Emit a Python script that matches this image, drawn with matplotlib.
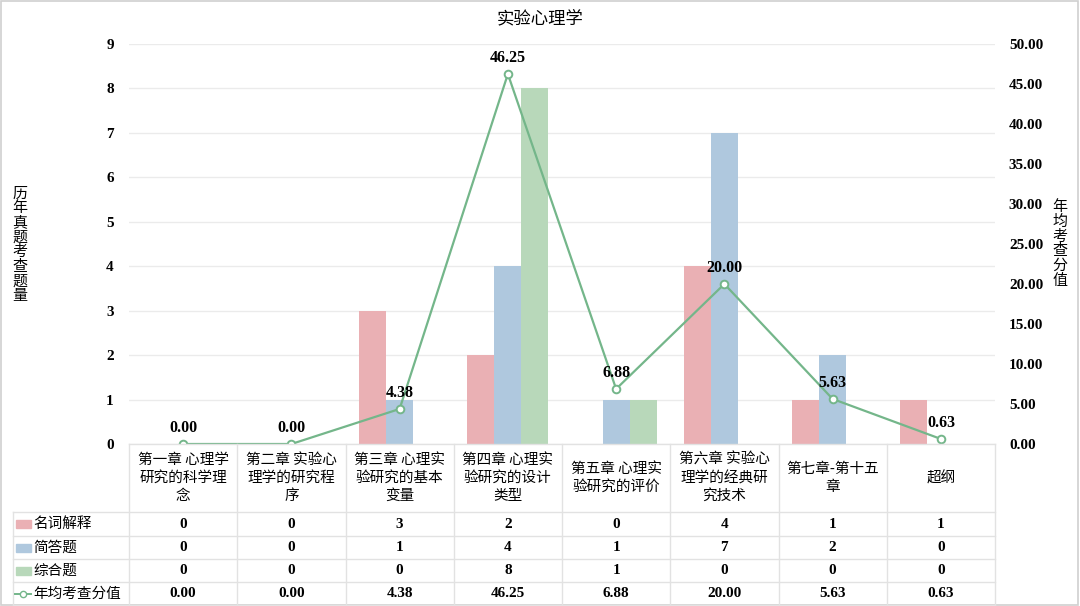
import matplotlib.pyplot as plt
import matplotlib.transforms as mtransforms
from matplotlib.lines import Line2D
from matplotlib.patches import Rectangle

# 数据
categories = [
    "第一章 心理学\n研究的科学理\n念",
    "第二章 实验心\n理学的研究程\n序",
    "第三章 心理实\n验研究的基本\n变量",
    "第四章 心理实\n验研究的设计\n类型",
    "第五章 心理实\n验研究的评价",
    "第六章 实验心\n理学的经典研\n究技术",
    "第七章-第十五\n章",
    "超纲",
]
mingci = [0, 0, 3, 2, 0, 4, 1, 1]
jianda = [0, 0, 1, 4, 1, 7, 2, 0]
zonghe = [0, 0, 0, 8, 1, 0, 0, 0]
fenzhi = [0.00, 0.00, 4.38, 46.25, 6.88, 20.00, 5.63, 0.63]

series_names = ["名词解释", "简答题", "综合题"]
line_name = "年均考查分值"

c_red = "#EAB0B4"
c_blue = "#AFC8DE"
c_green = "#B8D8BA"
c_line = "#74B68A"
c_grid = "#EBEBEB"
c_table = "#E2E2E2"

CJK = ["Noto Sans CJK SC", "DejaVu Sans"]
NUM = ["Liberation Serif", "Noto Sans CJK SC"]
plt.rcParams["font.family"] = CJK

W, H = 1080, 606
fig = plt.figure(figsize=(W / 100, H / 100), dpi=100)


def fx(x):
    return x / W


def fy(y):
    return 1 - y / H


ax_l, ax_r, ax_t, ax_b = 129, 995, 44, 444
ax = fig.add_axes([fx(ax_l), fy(ax_b), fx(ax_r - ax_l), (ax_b - ax_t) / H])
ax2 = ax.twinx()

n = len(categories)
xs = list(range(n))
bw = 0.25
ax.bar([x - bw for x in xs], mingci, bw, color=c_red, zorder=2)
ax.bar(xs, jianda, bw, color=c_blue, zorder=2)
ax.bar([x + bw for x in xs], zonghe, bw, color=c_green, zorder=2)

ax.set_xlim(-0.5, n - 0.5)
ax.set_ylim(0, 9)
ax.set_yticks(range(0, 10))
ax.set_xticks([])
ax.grid(axis="y", color=c_grid, linewidth=1, zorder=0)
ax.tick_params(axis="y", length=0, pad=11)
for lab in ax.get_yticklabels():
    lab.set_family(NUM)
    lab.set_fontweight("bold")
    lab.set_fontsize(11)

ax2.plot(xs, fenzhi, color=c_line, linewidth=1.6, marker="o", markersize=5.5,
         markerfacecolor="white", markeredgecolor=c_line, markeredgewidth=1.4, zorder=3)
ax2.set_ylim(0, 50)
ax2.set_yticks(range(0, 51, 5))
ax2.set_yticklabels([f"{v:.2f}" for v in range(0, 51, 5)])
ax2.tick_params(axis="y", length=0, pad=10)
for lab in ax2.get_yticklabels():
    lab.set_family(NUM)
    lab.set_fontweight("bold")
    lab.set_fontsize(11)
for x, v in zip(xs, fenzhi):
    ax2.annotate(f"{v:.2f}", (x, v), xytext=(0, 6), textcoords="offset points",
                 ha="center", va="bottom", family=NUM, fontweight="bold", fontsize=11.5)

for a in (ax, ax2):
    for s in a.spines.values():
        s.set_visible(False)

# 标题与坐标轴名
fig.text(fx(540), fy(18), "实验心理学", ha="center", va="center", fontsize=12.5)
fig.text(fx(20), fy(245), "\n".join("历年真题考查题量"), ha="center", va="center",
         fontsize=10.8, linespacing=1.06)
fig.text(fx(1060), fy(244), "\n".join("年均考查分值"), ha="center", va="center",
         fontsize=10.8, linespacing=1.06)

# 数据表
trans = mtransforms.blended_transform_factory(ax.transData, fig.transFigure)
row_edges = [444, 512, 536, 559, 582, 605]
tab_left = 13

for i in range(n + 1):
    fig.add_artist(Line2D([i - 0.5, i - 0.5], [fy(444), fy(605)], transform=trans,
                          color=c_table, linewidth=1))
fig.add_artist(Line2D([fx(tab_left), fx(tab_left)], [fy(512), fy(605)],
                      transform=fig.transFigure, color=c_table, linewidth=1))
fig.add_artist(Line2D([fx(ax_l), fx(ax_r)], [fy(444), fy(444)],
                      transform=fig.transFigure, color=c_table, linewidth=1))
for y in row_edges[1:]:
    fig.add_artist(Line2D([fx(tab_left), fx(ax_r)], [fy(y), fy(y)],
                          transform=fig.transFigure, color=c_table, linewidth=1))

for x, cat in zip(xs, categories):
    fig.text(x, fy(478), cat, transform=trans, ha="center", va="center",
             fontsize=10.5, linespacing=1.35)

rows = [mingci, jianda, zonghe]
row_colors = [c_red, c_blue, c_green]
for r, (vals, name, col) in enumerate(zip(rows, series_names, row_colors)):
    yc = (row_edges[r + 1] + row_edges[r + 2]) / 2
    fig.add_artist(Rectangle((fx(16), fy(yc + 4)), fx(15), 8 / H,
                             transform=fig.transFigure, color=col))
    fig.text(fx(33), fy(yc), name, ha="left", va="center", fontsize=10.5)
    for x, v in zip(xs, vals):
        fig.text(x, fy(yc), str(v), transform=trans, ha="center", va="center",
                 family=NUM, fontweight="bold", fontsize=11)

yc = (row_edges[4] + row_edges[5]) / 2
fig.add_artist(Line2D([fx(15), fx(31)], [fy(yc), fy(yc)], transform=fig.transFigure,
                      color=c_line, linewidth=1.4))
fig.add_artist(Line2D([fx(23)], [fy(yc)], transform=fig.transFigure, color=c_line,
                      marker="o", markersize=4.5, markerfacecolor="white",
                      markeredgecolor=c_line, linestyle="none"))
fig.text(fx(33), fy(yc), line_name, ha="left", va="center", fontsize=10.5)
for x, v in zip(xs, fenzhi):
    fig.text(x, fy(yc), f"{v:.2f}", transform=trans, ha="center", va="center",
             family=NUM, fontweight="bold", fontsize=11)

# 外边框
fig.add_artist(Rectangle((0.001, 0.002), 0.997, 0.996, transform=fig.transFigure,
                         fill=False, edgecolor="#D0D0D0", linewidth=1.2))

fig.savefig("out.png", dpi=100)
